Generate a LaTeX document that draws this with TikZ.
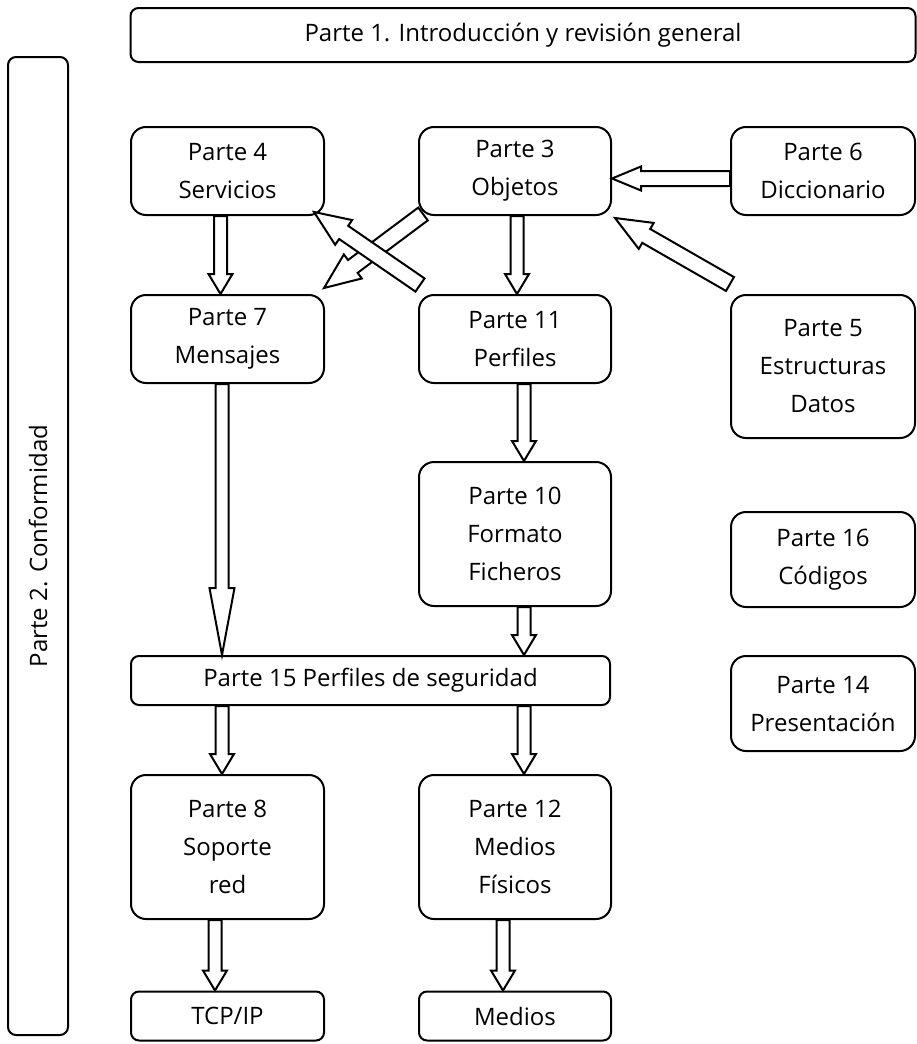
\documentclass[tikz,border=0pt]{standalone}
\usepackage{fontspec}
\setmainfont{Open Sans}
\usetikzlibrary{calc}
\tikzset{
  box/.style={draw, line width=2pt, rounded corners=15pt, align=center,
    font=\fontsize{24}{38}\selectfont, inner sep=0pt},
  flatbox/.style={box, rounded corners=8pt},
  barrow/.style={draw, line width=2pt, fill=white, line join=miter},
}
\newcommand\blockarr[5]{%
  \coordinate (ba-h) at ($(#2)!#5!(#1)$);
  \draw[barrow] ($(#1)!#3!90:(#2)$) -- ($(ba-h)!#3!90:(#2)$) -- ($(ba-h)!#4!90:(#2)$)
    -- (#2) -- ($(ba-h)!#4!-90:(#2)$) -- ($(ba-h)!#3!-90:(#2)$) -- ($(#1)!#3!-90:(#2)$) -- cycle;
}
\begin{document}
\begin{tikzpicture}[x=1pt,y=-1pt]
\useasboundingbox (0,0) rectangle (917,1044);
% boxes
\node[flatbox, minimum width=785pt, minimum height=54pt] (p1) at (523,35) {Parte 1. Introducción y revisión general};
\node[flatbox, minimum width=60pt, minimum height=978pt] (p2) at (38,546) {};
\node[font=\fontsize{24}{38}\selectfont, rotate=90, inner sep=0pt] (p2t) at (p2.center) {Parte 2. Conformidad};
\node[box, minimum width=193pt, minimum height=88pt] (p4) at (227.5,171) {Parte 4\\Servicios};
\node[box, minimum width=192pt, minimum height=88pt] (p3) at (515,171) {Parte 3\\Objetos};
\node[box, minimum width=184pt, minimum height=88pt] (p6) at (823,171) {Parte 6\\Diccionario};
\node[box, minimum width=193pt, minimum height=88pt] (p7) at (227.5,339) {Parte 7\\Mensajes};
\node[box, minimum width=192pt, minimum height=88pt] (p11) at (515,339) {Parte 11\\Perfiles};
\node[box, minimum width=184pt, minimum height=143pt] (p5) at (823,366.5) {Parte 5\\Estructuras\\Datos};
\node[box, minimum width=192pt, minimum height=144pt] (p10) at (515,534) {Parte 10\\Formato\\Ficheros};
\node[box, minimum width=184pt, minimum height=95pt] (p16) at (823,559.5) {Parte 16\\Códigos};
\node[flatbox, minimum width=479pt, minimum height=49pt] (p15) at (370.5,680.5) {Parte 15 Perfiles de seguridad};
\node[box, minimum width=184pt, minimum height=95pt] (p14) at (823,703.5) {Parte 14\\Presentación};
\node[box, minimum width=193pt, minimum height=144pt] (p8) at (227.5,847) {Parte 8\\Soporte\\red};
\node[box, minimum width=192pt, minimum height=144pt] (p12) at (515,847) {Parte 12\\Medios\\Físicos};
\node[flatbox, minimum width=193pt, minimum height=49pt] (tcp) at (227.5,1016) {TCP/IP};
\node[flatbox, minimum width=192pt, minimum height=49pt] (med) at (515,1016) {Medios};
% anchor points
\coordinate (a47) at ([xshift=-7pt]p4.south);
\coordinate (b47) at ([xshift=-7pt]p7.north);
\coordinate (a311) at ([xshift=2pt]p3.south);
\coordinate (b311) at ([xshift=2pt]p11.north);
\coordinate (a1110) at ([xshift=9pt]p11.south);
\coordinate (b1110) at ([xshift=9pt]p10.north);
\coordinate (a1015) at ([xshift=9pt]p10.south);
\coordinate (b1015) at ([xshift=153.5pt]p15.north);
\coordinate (a715) at ([xshift=-5.5pt]p7.south);
\coordinate (b715) at ([xshift=-148.5pt]p15.north);
\coordinate (a158) at ([xshift=-148.5pt]p15.south);
\coordinate (b158) at ([xshift=-5.5pt]p8.north);
\coordinate (a1512) at ([xshift=153.5pt]p15.south);
\coordinate (b1512) at ([xshift=9pt]p12.north);
\coordinate (a8t) at ([xshift=-12.5pt]p8.south);
\coordinate (b8t) at ([xshift=-12.5pt]tcp.north);
\coordinate (a12m) at ([xshift=-12pt]p12.south);
\coordinate (b12m) at ([xshift=-12pt]med.north);
\coordinate (a63) at ([yshift=-7.5pt]p6.west);
\coordinate (b63) at ([yshift=-7.5pt]p3.east);
\coordinate (a37) at ([shift={(5pt,2pt)}]p3.south west);
\coordinate (b37) at ([shift={(-1pt,6pt)}]p7.north east);
\coordinate (a114) at ([shift={(2pt,9pt)}]p11.north west);
\coordinate (b114) at ([shift={(-11pt,4pt)}]p4.south east);
\coordinate (a53) at ([shift={(0pt,10pt)}]p5.north west);
\coordinate (b53) at ([shift={(3pt,-2pt)}]p3.south east);
% arrows
\blockarr{a47}{b47}{6.5pt}{12pt}{20pt}
\blockarr{a311}{b311}{6.5pt}{12pt}{20pt}
\blockarr{a1110}{b1110}{6.5pt}{12pt}{20pt}
\blockarr{a1015}{b1015}{6.5pt}{12pt}{20pt}
\blockarr{a715}{b715}{6.5pt}{12.5pt}{67pt}
\blockarr{a158}{b158}{6.5pt}{12pt}{20pt}
\blockarr{a1512}{b1512}{6.5pt}{12pt}{20pt}
\blockarr{a8t}{b8t}{6.5pt}{12pt}{20pt}
\blockarr{a12m}{b12m}{6.5pt}{12pt}{20pt}
\blockarr{a63}{b63}{7.5pt}{12pt}{29pt}
\blockarr{a37}{b37}{8pt}{15pt}{36pt}
\blockarr{a114}{b114}{8pt}{15pt}{36pt}
\blockarr{a53}{b53}{8pt}{15pt}{36pt}
\end{tikzpicture}
\end{document}
